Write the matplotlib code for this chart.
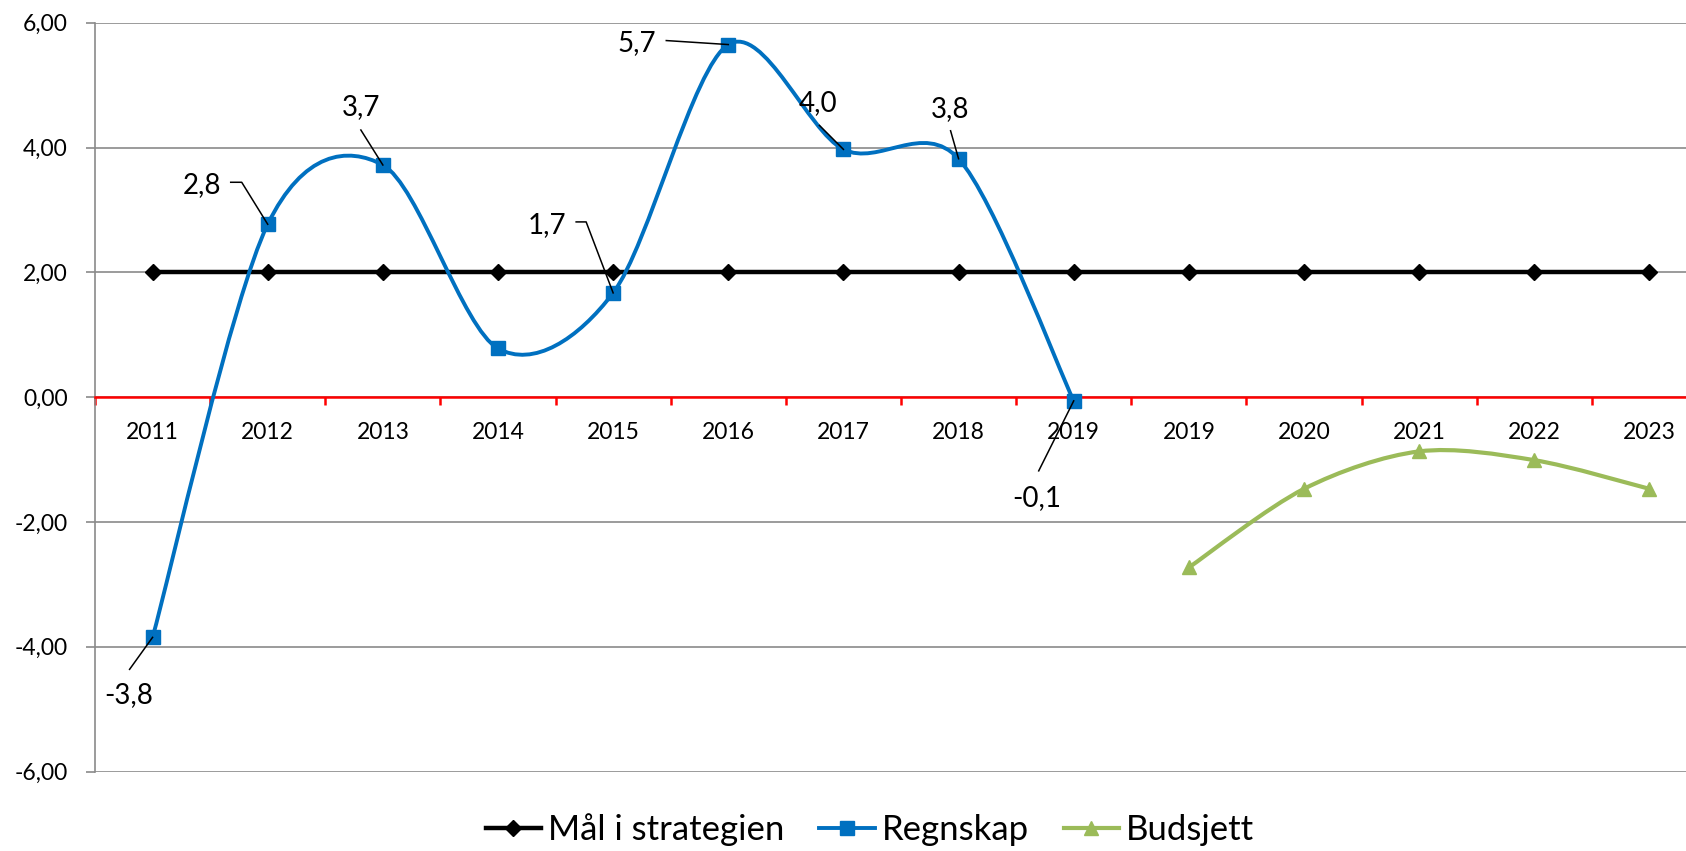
import matplotlib

matplotlib.use("Agg")
import matplotlib.pyplot as plt
import matplotlib.transforms as mtransforms
from matplotlib.lines import Line2D
from matplotlib.patches import PathPatch
from matplotlib.path import Path

plt.rcParams["font.family"] = ["Lato", "DejaVu Sans"]

# categories on the x axis (2019 appears twice: actual + budget)
years = ["2011", "2012", "2013", "2014", "2015", "2016", "2017",
         "2018", "2019", "2019", "2020", "2021", "2022", "2023"]

maal = [2.0, 2.0, 2.0, 2.0, 2.0, 2.0, 2.0, 2.0, 2.0, 2.0, 2.0, 2.0, 2.0, 2.0]
regnskap = [-3.85, 2.77, 3.72, 0.78, 1.67, 5.65, 3.97, 3.82, -0.06]
budsjett = [-2.73, -1.47, -0.87, -1.01, -1.47]
regnskap_labels = ["-3,8", "2,8", "3,7", "", "1,7", "5,7", "4,0", "3,8", "-0,1"]

y_ticks = [-6, -4, -2, 0, 2, 4, 6]
y_tick_labels = ["-6,00", "-4,00", "-2,00", "0,00", "2,00", "4,00", "6,00"]

BLUE = "#0070C0"
GREEN = "#9BBB59"
GRID = "#8A8A8A"

# text offset and leader-line points (pixels from the marker, y up)
label_layout = [
    ((-24, -58), [(-23, -32)]),
    ((-66, 39), [(-37, 42), (-26, 42)]),
    ((-22, 58), [(-22, 35)]),
    (None, []),
    ((-66, 68), [(-37, 71), (-27, 71)]),
    ((-92, 2), [(-62, 4)]),
    ((-25, 46), [(-24, 24)]),
    ((-8, 50), [(-8, 28)]),
    ((-37, -97), [(-35, -70)]),
]


def smooth_path(xs, ys, k=1 / 6.5):
    # Excel-style smoothed line as cubic bezier segments
    pts = list(zip(xs, ys))
    n = len(pts)
    verts = [pts[0]]
    codes = [Path.MOVETO]
    for i in range(n - 1):
        p0 = pts[max(i - 1, 0)]
        p1 = pts[i]
        p2 = pts[i + 1]
        p3 = pts[min(i + 2, n - 1)]
        c1 = (p1[0] + (p2[0] - p0[0]) * k, p1[1] + (p2[1] - p0[1]) * k)
        c2 = (p2[0] - (p3[0] - p1[0]) * k, p2[1] - (p3[1] - p1[1]) * k)
        verts += [c1, c2, p2]
        codes += [Path.CURVE4, Path.CURVE4, Path.CURVE4]
    return Path(verts, codes)


fig = plt.figure(figsize=(16.86, 8.51), dpi=100)
ax = fig.add_axes([95 / 1686, 0.0934, 1612 / 1686, 0.8799])

x_all = list(range(len(years)))
x_regn = x_all[:len(regnskap)]
x_bud = x_all[len(regnskap):]

ax.plot(x_all, maal, color="black", lw=3.2, marker="D", ms=8.5, zorder=4)

ax.add_patch(PathPatch(smooth_path(x_regn, regnskap), fc="none", ec=BLUE,
                       lw=2.8, capstyle="round", zorder=5))
ax.plot(x_regn, regnskap, ls="none", marker="s", ms=10, color=BLUE, zorder=6)

ax.add_patch(PathPatch(smooth_path(x_bud, budsjett), fc="none", ec=GREEN,
                       lw=3.0, capstyle="round", zorder=5))
ax.plot(x_bud, budsjett, ls="none", marker="^", ms=10, color=GREEN, zorder=6)

# data labels with leader lines
for xi, yi, lbl, (txt_off, leader) in zip(x_regn, regnskap, regnskap_labels, label_layout):
    if not lbl:
        continue
    ax.annotate(lbl, xy=(xi, yi), xytext=txt_off, textcoords="offset pixels",
                ha="center", va="center", fontsize=20, zorder=7)
    pts = leader + [(0, 0)]
    tr = mtransforms.ScaledTranslation(xi, yi, ax.transData)
    ax.plot([p[0] for p in pts], [p[1] for p in pts], color="black", lw=1.1,
            transform=tr, zorder=7, clip_on=False)

ax.set_xlim(-0.5, len(years) - 0.5)
ax.set_ylim(-6, 6)

# y axis
ax.set_yticks(y_ticks)
ax.set_yticklabels(y_tick_labels)
ax.yaxis.grid(True, color=GRID, lw=1.2)
ax.tick_params(axis="y", direction="out", length=6.5, width=1.2, color=GRID,
               labelsize=16.5, pad=13)

# x axis drawn as red line at zero
for side in ["top", "right"]:
    ax.spines[side].set_visible(False)
ax.spines["left"].set_color(GRID)
ax.spines["left"].set_linewidth(1.2)
ax.spines["bottom"].set_position(("data", 0))
ax.spines["bottom"].set_color("red")
ax.spines["bottom"].set_linewidth(1.8)
ax.spines["bottom"].set_zorder(3)
ax.set_xticks(x_all)
ax.set_xticklabels(years)
ax.set_xticks([x - 0.5 for x in x_all], minor=True)
ax.tick_params(axis="x", which="major", length=0, labelsize=16.5, pad=18)
ax.tick_params(axis="x", which="minor", direction="out", length=5.5, width=1.8,
               color="red")
ax.set_axisbelow(True)

handles = [
    Line2D([], [], color="black", lw=3.2, marker="D", ms=8.5),
    Line2D([], [], color=BLUE, lw=2.8, marker="s", ms=10),
    Line2D([], [], color=GREEN, lw=3.0, marker="^", ms=10),
]
fig.legend(handles, ["Mål i strategien", "Regnskap", "Budsjett"], loc="center",
           bbox_to_anchor=(870 / 1686, 1 - 830 / 851), ncol=3, frameon=False,
           fontsize=25, handlelength=1.6, handletextpad=0.2, columnspacing=1.0)

fig.savefig("out.png", dpi=100)
